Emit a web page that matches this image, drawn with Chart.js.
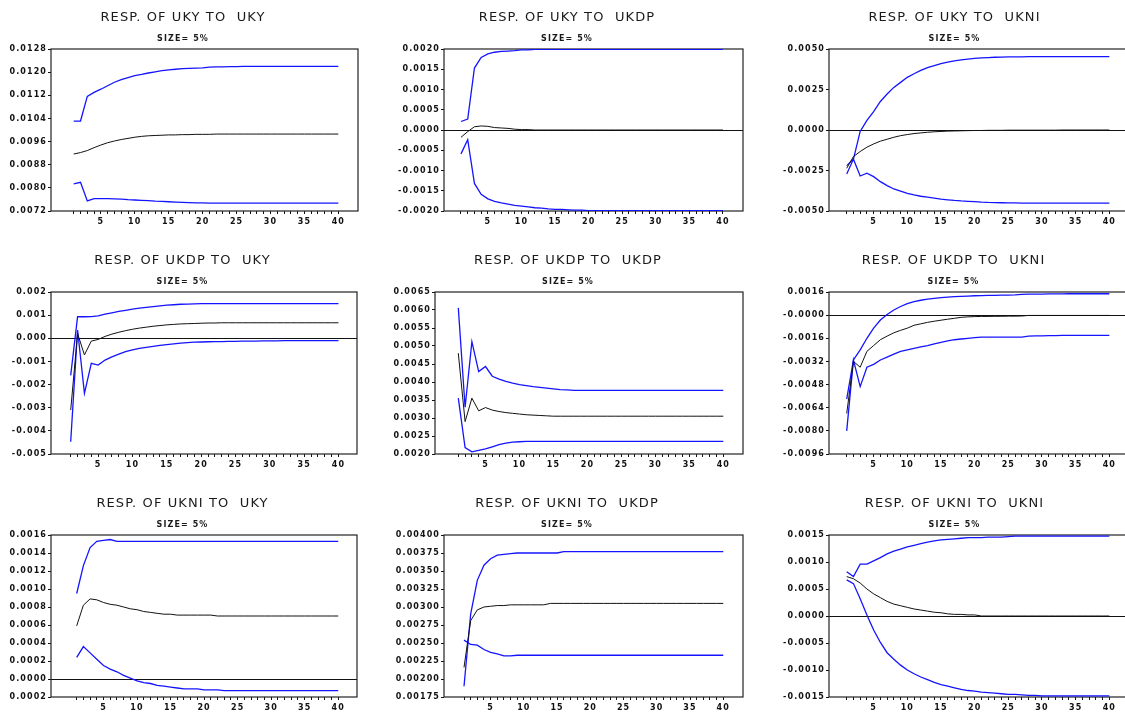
<!DOCTYPE html>
<html>
<head>
<meta charset="utf-8">
<script src="https://cdn.jsdelivr.net/npm/chart.js@4.4.1/dist/chart.umd.min.js"></script>
<style>
  body { margin: 0; width: 1125px; height: 713px; overflow: hidden; background: #fff; position: relative; }
  canvas { position: absolute; }
</style>
</head>
<body>
<script>
const periods = [1, 2, 3, 4, 5, 6, 7, 8, 9, 10, 11, 12, 13, 14, 15, 16, 17, 18, 19, 20,
  21, 22, 23, 24, 25, 26, 27, 28, 29, 30, 31, 32, 33, 34, 35, 36, 37, 38, 39, 40];

const panelTitles = [
  "RESP. OF UKY TO  UKY", "RESP. OF UKY TO  UKDP", "RESP. OF UKY TO  UKNI",
  "RESP. OF UKDP TO  UKY", "RESP. OF UKDP TO  UKDP", "RESP. OF UKDP TO  UKNI",
  "RESP. OF UKNI TO  UKY", "RESP. OF UKNI TO  UKDP", "RESP. OF UKNI TO  UKNI"
];
const subTitle = "SIZE= 5%";

// y tick labels, top to bottom
const yTicksUkyUky = ["0.0128", "0.0120", "0.0112", "0.0104", "0.0096", "0.0088", "0.0080", "0.0072"];
const yTicksUkyUkdp = ["0.0020", "0.0015", "0.0010", "0.0005", "0.0000", "-0.0005", "-0.0010", "-0.0015", "-0.0020"];
const yTicksUkyUkni = ["0.0050", "0.0025", "0.0000", "-0.0025", "-0.0050"];
const yTicksUkdpUky = ["0.002", "0.001", "0.000", "-0.001", "-0.002", "-0.003", "-0.004", "-0.005"];
const yTicksUkdpUkdp = ["0.0065", "0.0060", "0.0055", "0.0050", "0.0045", "0.0040", "0.0035", "0.0030", "0.0025", "0.0020"];
const yTicksUkdpUkni = ["0.0016", "-0.0000", "-0.0016", "-0.0032", "-0.0048", "-0.0064", "-0.0080", "-0.0096"];
const yTicksUkniUky = ["0.0016", "0.0014", "0.0012", "0.0010", "0.0008", "0.0006", "0.0004", "0.0002", "0.0000", "-0.0002"];
const yTicksUkniUkdp = ["0.00400", "0.00375", "0.00350", "0.00325", "0.00300", "0.00275", "0.00250", "0.00225", "0.00200", "0.00175"];
const yTicksUkniUkni = ["0.0015", "0.0010", "0.0005", "0.0000", "-0.0005", "-0.0010", "-0.0015"];

// UKY to UKY
const upperUkyUky = [0.01031, 0.01031, 0.01116, 0.01130, 0.01141, 0.01153, 0.01165, 0.01174, 0.01181, 0.01188,
  0.01192, 0.01197, 0.01201, 0.01205, 0.01208, 0.01210, 0.01212, 0.01213, 0.01214, 0.01215,
  0.01217, 0.01218, 0.01218, 0.01219, 0.01219, 0.01220, 0.01220, 0.01220, 0.01220, 0.01220,
  0.01220, 0.01220, 0.01220, 0.01220, 0.01220, 0.01220, 0.01220, 0.01220, 0.01220, 0.01220];
const respUkyUky = [0.00917, 0.00922, 0.00929, 0.00939, 0.00948, 0.00956, 0.00962, 0.00967, 0.00971, 0.00975,
  0.00978, 0.00980, 0.00981, 0.00982, 0.00983, 0.00983, 0.00984, 0.00984, 0.00985, 0.00985,
  0.00985, 0.00986, 0.00986, 0.00986, 0.00986, 0.00986, 0.00986, 0.00986, 0.00986, 0.00986,
  0.00986, 0.00986, 0.00986, 0.00986, 0.00986, 0.00986, 0.00986, 0.00986, 0.00986, 0.00986];
const lowerUkyUky = [0.00814, 0.00819, 0.00755, 0.00763, 0.00763, 0.00763, 0.00762, 0.00761, 0.00759, 0.00758,
  0.00757, 0.00756, 0.00754, 0.00753, 0.00752, 0.00751, 0.00750, 0.00749, 0.00748, 0.00748,
  0.00747, 0.00747, 0.00747, 0.00747, 0.00747, 0.00747, 0.00747, 0.00747, 0.00747, 0.00747,
  0.00747, 0.00747, 0.00747, 0.00747, 0.00747, 0.00747, 0.00747, 0.00747, 0.00747, 0.00747];

// UKY to UKDP
const upperUkyUkdp = [0.00021, 0.00027, 0.00153, 0.00179, 0.00188, 0.00192, 0.00194, 0.00195, 0.00196, 0.00198,
  0.00198, 0.00199, 0.00199, 0.00199, 0.00199, 0.00199, 0.00199, 0.00199, 0.00199, 0.00199,
  0.00199, 0.00199, 0.00199, 0.00199, 0.00199, 0.00199, 0.00199, 0.00199, 0.00199, 0.00199,
  0.00199, 0.00199, 0.00199, 0.00199, 0.00199, 0.00199, 0.00199, 0.00199, 0.00199, 0.00199];
const respUkyUkdp = [-0.00018, -0.00004, 0.00008, 0.00010, 0.00009, 0.00006, 0.00005, 0.00004, 0.00002, 0.00001,
  0.00001, 0, 0, 0, 0, 0, 0, 0, 0, 0,
  0, 0, 0, 0, 0, 0, 0, 0, 0, 0,
  0, 0, 0, 0, 0, 0, 0, 0, 0, 0];
const lowerUkyUkdp = [-0.00059, -0.00024, -0.00132, -0.00159, -0.00170, -0.00176, -0.00180, -0.00183, -0.00186, -0.00188,
  -0.00190, -0.00192, -0.00193, -0.00195, -0.00196, -0.00196, -0.00197, -0.00198, -0.00198, -0.00199,
  -0.00199, -0.00199, -0.00199, -0.00199, -0.00199, -0.00199, -0.00199, -0.00199, -0.00199, -0.00199,
  -0.00199, -0.00199, -0.00199, -0.00199, -0.00199, -0.00199, -0.00199, -0.00199, -0.00199, -0.00199];

// UKY to UKNI
const upperUkyUkni = [-0.00271, -0.00180, -0.00009, 0.00059, 0.00114, 0.00176, 0.00222, 0.00263, 0.00294, 0.00325,
  0.00347, 0.00368, 0.00385, 0.00398, 0.00409, 0.00419, 0.00427, 0.00433, 0.00438, 0.00442,
  0.00445, 0.00447, 0.00449, 0.00450, 0.00451, 0.00452, 0.00452, 0.00453, 0.00453, 0.00453,
  0.00453, 0.00453, 0.00453, 0.00453, 0.00453, 0.00453, 0.00453, 0.00453, 0.00453, 0.00453];
const respUkyUkni = [-0.00236, -0.00164, -0.00133, -0.00106, -0.00086, -0.00069, -0.00057, -0.00045, -0.00035, -0.00028,
  -0.00022, -0.00018, -0.00014, -0.00011, -0.00009, -0.00007, -0.00006, -0.00005, -0.00004, -0.00003,
  -0.00003, -0.00002, -0.00002, -0.00002, -0.00001, -0.00001, -0.00001, -0.00001, -0.00001, -0.00001,
  -0.00001, -0.00001, 0, 0, 0, 0, 0, 0, 0, 0];
const lowerUkyUkni = [-0.00220, -0.00180, -0.00284, -0.00267, -0.00288, -0.00319, -0.00343, -0.00364, -0.00378, -0.00391,
  -0.00401, -0.00409, -0.00415, -0.00421, -0.00427, -0.00431, -0.00435, -0.00438, -0.00440, -0.00442,
  -0.00445, -0.00447, -0.00448, -0.00449, -0.00450, -0.00450, -0.00451, -0.00451, -0.00451, -0.00451,
  -0.00451, -0.00451, -0.00451, -0.00451, -0.00451, -0.00451, -0.00451, -0.00451, -0.00451, -0.00451];

// UKDP to UKY
const upperUkdpUky = [-0.00160, 0.00093, 0.00093, 0.00094, 0.00097, 0.00104, 0.00110, 0.00116, 0.00121, 0.00126,
  0.00130, 0.00134, 0.00137, 0.00140, 0.00143, 0.00145, 0.00147, 0.00148, 0.00149, 0.00150,
  0.00150, 0.00150, 0.00150, 0.00150, 0.00150, 0.00150, 0.00150, 0.00150, 0.00150, 0.00150,
  0.00150, 0.00150, 0.00150, 0.00150, 0.00150, 0.00150, 0.00150, 0.00150, 0.00150, 0.00150];
const respUkdpUky = [-0.00310, 0.00021, -0.00072, -0.00012, -0.00005, 0.00008, 0.00018, 0.00026, 0.00033, 0.00039,
  0.00044, 0.00048, 0.00052, 0.00055, 0.00058, 0.00060, 0.00062, 0.00063, 0.00064, 0.00065,
  0.00066, 0.00066, 0.00067, 0.00067, 0.00067, 0.00067, 0.00067, 0.00067, 0.00067, 0.00067,
  0.00067, 0.00067, 0.00067, 0.00067, 0.00067, 0.00067, 0.00067, 0.00067, 0.00067, 0.00067];
const lowerUkdpUky = [-0.00447, 0.00036, -0.00238, -0.00108, -0.00116, -0.00094, -0.00080, -0.00068, -0.00058, -0.00050,
  -0.00044, -0.00039, -0.00035, -0.00031, -0.00027, -0.00024, -0.00021, -0.00019, -0.00017, -0.00016,
  -0.00015, -0.00014, -0.00014, -0.00013, -0.00013, -0.00012, -0.00012, -0.00012, -0.00011, -0.00011,
  -0.00011, -0.00010, -0.00010, -0.00010, -0.00010, -0.00010, -0.00010, -0.00010, -0.00010, -0.00010];

// UKDP to UKDP
const upperUkdpUkdp = [0.00606, 0.00330, 0.00512, 0.00429, 0.00443, 0.00416, 0.00408, 0.00402, 0.00397, 0.00393,
  0.00390, 0.00387, 0.00385, 0.00383, 0.00381, 0.00379, 0.00378, 0.00377, 0.00377, 0.00377,
  0.00377, 0.00377, 0.00377, 0.00377, 0.00377, 0.00377, 0.00377, 0.00377, 0.00377, 0.00377,
  0.00377, 0.00377, 0.00377, 0.00377, 0.00377, 0.00377, 0.00377, 0.00377, 0.00377, 0.00377];
const respUkdpUkdp = [0.00480, 0.00290, 0.00355, 0.00320, 0.00329, 0.00322, 0.00318, 0.00315, 0.00313, 0.00311,
  0.00309, 0.00308, 0.00307, 0.00306, 0.00305, 0.00305, 0.00305, 0.00305, 0.00305, 0.00305,
  0.00305, 0.00305, 0.00305, 0.00305, 0.00305, 0.00305, 0.00305, 0.00305, 0.00305, 0.00305,
  0.00305, 0.00305, 0.00305, 0.00305, 0.00305, 0.00305, 0.00305, 0.00305, 0.00305, 0.00305];
const lowerUkdpUkdp = [0.00355, 0.00218, 0.00206, 0.00210, 0.00214, 0.00220, 0.00226, 0.00230, 0.00233, 0.00234,
  0.00235, 0.00235, 0.00235, 0.00235, 0.00235, 0.00235, 0.00235, 0.00235, 0.00235, 0.00235,
  0.00235, 0.00235, 0.00235, 0.00235, 0.00235, 0.00235, 0.00235, 0.00235, 0.00235, 0.00235,
  0.00235, 0.00235, 0.00235, 0.00235, 0.00235, 0.00235, 0.00235, 0.00235, 0.00235, 0.00235];

// UKDP to UKNI
const upperUkdpUkni = [-0.00580, -0.00310, -0.00240, -0.00160, -0.00090, -0.00034, 0.00004, 0.00036, 0.00060, 0.00080,
  0.00093, 0.00103, 0.00110, 0.00116, 0.00121, 0.00125, 0.00128, 0.00130, 0.00132, 0.00134,
  0.00135, 0.00136, 0.00137, 0.00138, 0.00139, 0.00140, 0.00143, 0.00145, 0.00146, 0.00146,
  0.00147, 0.00147, 0.00147, 0.00148, 0.00148, 0.00148, 0.00148, 0.00148, 0.00148, 0.00148];
const respUkdpUkni = [-0.00680, -0.00320, -0.00360, -0.00250, -0.00210, -0.00170, -0.00145, -0.00122, -0.00105, -0.00090,
  -0.00070, -0.00060, -0.00050, -0.00042, -0.00035, -0.00028, -0.00022, -0.00015, -0.00012, -0.00010,
  -0.00009, -0.00009, -0.00008, -0.00008, -0.00007, -0.00007, -0.00006, -0.00002, -0.00002, -0.00002,
  -0.00002, -0.00002, -0.00002, -0.00002, -0.00002, -0.00002, -0.00002, -0.00002, -0.00002, -0.00002];
const lowerUkdpUkni = [-0.00800, -0.00310, -0.00494, -0.00360, -0.00340, -0.00310, -0.00290, -0.00270, -0.00250, -0.00240,
  -0.00230, -0.00220, -0.00210, -0.00198, -0.00188, -0.00178, -0.00170, -0.00165, -0.00160, -0.00156,
  -0.00152, -0.00152, -0.00152, -0.00152, -0.00152, -0.00152, -0.00152, -0.00145, -0.00144, -0.00143,
  -0.00142, -0.00141, -0.00140, -0.00140, -0.00140, -0.00140, -0.00140, -0.00140, -0.00140, -0.00140];

// UKNI to UKY
const upperUkniUky = [0.00095, 0.00126, 0.00146, 0.00153, 0.00154, 0.00155, 0.00153, 0.00153, 0.00153, 0.00153,
  0.00153, 0.00153, 0.00153, 0.00153, 0.00153, 0.00153, 0.00153, 0.00153, 0.00153, 0.00153,
  0.00153, 0.00153, 0.00153, 0.00153, 0.00153, 0.00153, 0.00153, 0.00153, 0.00153, 0.00153,
  0.00153, 0.00153, 0.00153, 0.00153, 0.00153, 0.00153, 0.00153, 0.00153, 0.00153, 0.00153];
const respUkniUky = [0.00059, 0.00082, 0.00089, 0.00088, 0.00085, 0.00083, 0.00082, 0.00080, 0.00078, 0.00077,
  0.00075, 0.00074, 0.00073, 0.00072, 0.00072, 0.00071, 0.00071, 0.00071, 0.00071, 0.00071,
  0.00071, 0.00070, 0.00070, 0.00070, 0.00070, 0.00070, 0.00070, 0.00070, 0.00070, 0.00070,
  0.00070, 0.00070, 0.00070, 0.00070, 0.00070, 0.00070, 0.00070, 0.00070, 0.00070, 0.00070];
const lowerUkniUky = [0.00024, 0.00036, 0.00029, 0.00022, 0.00015, 0.00011, 0.00008, 0.00004, 0.00001, -0.00002,
  -0.00004, -0.00005, -0.00007, -0.00008, -0.00009, -0.00010, -0.00011, -0.00011, -0.00011, -0.00012,
  -0.00012, -0.00012, -0.00013, -0.00013, -0.00013, -0.00013, -0.00013, -0.00013, -0.00013, -0.00013,
  -0.00013, -0.00013, -0.00013, -0.00013, -0.00013, -0.00013, -0.00013, -0.00013, -0.00013, -0.00013];

// UKNI to UKDP
const upperUkniUkdp = [0.00190, 0.00290, 0.00337, 0.00358, 0.00367, 0.00372, 0.00373, 0.00374, 0.00375, 0.00375,
  0.00375, 0.00375, 0.00375, 0.00375, 0.00375, 0.00377, 0.00377, 0.00377, 0.00377, 0.00377,
  0.00377, 0.00377, 0.00377, 0.00377, 0.00377, 0.00377, 0.00377, 0.00377, 0.00377, 0.00377,
  0.00377, 0.00377, 0.00377, 0.00377, 0.00377, 0.00377, 0.00377, 0.00377, 0.00377, 0.00377];
const respUkniUkdp = [0.00216, 0.00281, 0.00296, 0.00300, 0.00301, 0.00302, 0.00302, 0.00303, 0.00303, 0.00303,
  0.00303, 0.00303, 0.00303, 0.00305, 0.00305, 0.00305, 0.00305, 0.00305, 0.00305, 0.00305,
  0.00305, 0.00305, 0.00305, 0.00305, 0.00305, 0.00305, 0.00305, 0.00305, 0.00305, 0.00305,
  0.00305, 0.00305, 0.00305, 0.00305, 0.00305, 0.00305, 0.00305, 0.00305, 0.00305, 0.00305];
const lowerUkniUkdp = [0.00254, 0.00248, 0.00247, 0.00241, 0.00237, 0.00235, 0.00232, 0.00232, 0.00233, 0.00233,
  0.00233, 0.00233, 0.00233, 0.00233, 0.00233, 0.00233, 0.00233, 0.00233, 0.00233, 0.00233,
  0.00233, 0.00233, 0.00233, 0.00233, 0.00233, 0.00233, 0.00233, 0.00233, 0.00233, 0.00233,
  0.00233, 0.00233, 0.00233, 0.00233, 0.00233, 0.00233, 0.00233, 0.00233, 0.00233, 0.00233];

// UKNI to UKNI
const upperUkniUkni = [0.00082, 0.00073, 0.00096, 0.00096, 0.00102, 0.00108, 0.00115, 0.00120, 0.00124, 0.00128,
  0.00131, 0.00134, 0.00137, 0.00139, 0.00141, 0.00142, 0.00143, 0.00144, 0.00145, 0.00145,
  0.00145, 0.00146, 0.00146, 0.00146, 0.00147, 0.00148, 0.00148, 0.00148, 0.00148, 0.00148,
  0.00148, 0.00148, 0.00148, 0.00148, 0.00148, 0.00148, 0.00148, 0.00148, 0.00148, 0.00148];
const respUkniUkni = [0.00073, 0.00069, 0.00061, 0.00050, 0.00041, 0.00034, 0.00027, 0.00022, 0.00019, 0.00016,
  0.00013, 0.00011, 0.00009, 0.00007, 0.00006, 0.00004, 0.00003, 0.00003, 0.00002, 0.00002,
  0, 0, 0, 0, 0, 0, 0, 0, 0, 0,
  0, 0, 0, 0, 0, 0, 0, 0, 0, 0];
const lowerUkniUkni = [0.00067, 0.00060, 0.00032, 0.00002, -0.00026, -0.00049, -0.00068, -0.00080, -0.00091, -0.00100,
  -0.00107, -0.00113, -0.00118, -0.00123, -0.00127, -0.00130, -0.00133, -0.00136, -0.00138, -0.00139,
  -0.00141, -0.00142, -0.00143, -0.00144, -0.00145, -0.00145, -0.00146, -0.00147, -0.00147, -0.00148,
  -0.00148, -0.00148, -0.00148, -0.00148, -0.00148, -0.00148, -0.00148, -0.00148, -0.00148, -0.00148];

const panelSeries = [
  [upperUkyUky, respUkyUky, lowerUkyUky, yTicksUkyUky],
  [upperUkyUkdp, respUkyUkdp, lowerUkyUkdp, yTicksUkyUkdp],
  [upperUkyUkni, respUkyUkni, lowerUkyUkni, yTicksUkyUkni],
  [upperUkdpUky, respUkdpUky, lowerUkdpUky, yTicksUkdpUky],
  [upperUkdpUkdp, respUkdpUkdp, lowerUkdpUkdp, yTicksUkdpUkdp],
  [upperUkdpUkni, respUkdpUkni, lowerUkdpUkni, yTicksUkdpUkni],
  [upperUkniUky, respUkniUky, lowerUkniUky, yTicksUkniUky],
  [upperUkniUkdp, respUkniUkdp, lowerUkniUkdp, yTicksUkniUkdp],
  [upperUkniUkni, respUkniUkni, lowerUkniUkni, yTicksUkniUkni]
];

// canvas frame (left, right, top) and plot box edges, plus x range of each panel
const panelLayout = [
  { left: 8, right: 360, top: 0, boxLeft: 51, boxRight: 358, xMin: -2.35, xMax: 42.9 },
  { left: 391, right: 745, top: 0, boxLeft: 444, boxRight: 743, xMin: -1.53, xMax: 42.98 },
  { left: 779, right: 1131, top: 0, boxLeft: 829, boxRight: 1130, xMin: -1.63, xMax: 43.07 },
  { left: 8, right: 360, top: 243, boxLeft: 51, boxRight: 357, xMin: -1.87, xMax: 42.7 },
  { left: 393, right: 745, top: 243, boxLeft: 435, boxRight: 743, xMin: -2.43, xMax: 42.9 },
  { left: 777, right: 1131, top: 243, boxLeft: 829, boxRight: 1130, xMin: -1.63, xMax: 43.07 },
  { left: 8, right: 360, top: 486, boxLeft: 51, boxRight: 357, xMin: -2.83, xMax: 42.8 },
  { left: 391, right: 745, top: 486, boxLeft: 444, boxRight: 743, xMin: -2.01, xMax: 42.97 },
  { left: 779, right: 1131, top: 486, boxLeft: 829, boxRight: 1130, xMin: -1.63, xMax: 43.07 }
];

const canvasHeight = 233;
const boxTop = 49;
const boxHeight = 162;
const blueLine = '#1414ff';
const tickFont = { family: 'DejaVu Sans', size: 8, weight: 'bold' };

const framePlugin = {
  id: 'framePlugin',
  beforeDraw(chart) {
    chart.ctx.letterSpacing = '1.1px';
  },
  beforeDatasetsDraw(chart) {
    const { ctx, chartArea } = chart;
    ctx.save();
    ctx.strokeStyle = '#222';
    ctx.lineWidth = 1.2;
    ctx.strokeRect(chartArea.left, chartArea.top, chartArea.right - chartArea.left, chartArea.bottom - chartArea.top);
    ctx.restore();
  }
};

function lineSet(values, color, width) {
  return {
    data: values,
    borderColor: color,
    borderWidth: width,
    pointRadius: 0,
    tension: 0,
    fill: false
  };
}

function makePanel(index) {
  const box = panelLayout[index];
  const [upper, resp, lower, yLabels] = panelSeries[index];

  const canvas = document.createElement('canvas');
  canvas.width = box.right - box.left;
  canvas.height = canvasHeight;
  canvas.style.left = box.left + 'px';
  canvas.style.top = box.top + 'px';
  document.body.appendChild(canvas);

  new Chart(canvas, {
    type: 'line',
    data: {
      labels: periods,
      datasets: [
        lineSet(resp, '#111', 1),
        lineSet(upper, blueLine, 1.3),
        lineSet(lower, blueLine, 1.3)
      ]
    },
    options: {
      responsive: false,
      animation: false,
      events: [],
      layout: { padding: { left: 0, right: box.right - box.boxRight, top: 0, bottom: 0 } },
      plugins: {
        legend: { display: false },
        tooltip: { enabled: false },
        title: {
          display: true,
          text: panelTitles[index],
          color: '#1a1a1a',
          font: { family: 'DejaVu Sans', size: 13, weight: 'normal', lineHeight: 1 },
          padding: { top: 11, bottom: 0 }
        },
        subtitle: {
          display: true,
          text: subTitle,
          color: '#1a1a1a',
          font: { family: 'DejaVu Sans', size: 8, weight: 'bold', lineHeight: 1 },
          padding: { top: 10.5, bottom: 6.5 }
        }
      },
      scales: {
        x: {
          type: 'linear',
          min: box.xMin,
          max: box.xMax,
          afterBuildTicks: scale => { scale.ticks = periods.map(p => ({ value: p })); },
          afterFit: scale => { scale.height = canvasHeight - boxTop - boxHeight; },
          border: { display: false },
          grid: { drawOnChartArea: false, tickLength: 3, color: '#111' },
          ticks: {
            autoSkip: false,
            maxRotation: 0,
            padding: 3,
            color: '#111',
            font: tickFont,
            callback: v => (v % 5 === 0 ? String(v) : '')
          }
        },
        y: {
          min: parseFloat(yLabels[yLabels.length - 1]),
          max: parseFloat(yLabels[0]),
          afterBuildTicks: scale => { scale.ticks = yLabels.map(l => ({ value: parseFloat(l) })); },
          afterFit: scale => { scale.width = box.boxLeft - box.left; },
          border: { display: false },
          grid: {
            color: c => (c.tick && c.tick.value === 0 ? '#111' : 'rgba(0,0,0,0)'),
            tickColor: '#111',
            tickLength: 3,
            lineWidth: 1
          },
          ticks: {
            autoSkip: false,
            padding: 1,
            color: '#111',
            font: tickFont,
            callback: (v, i) => yLabels[i]
          }
        }
      }
    },
    plugins: [framePlugin]
  });
}

for (let i = 0; i < panelLayout.length; i++) {
  makePanel(i);
}
</script>
</body>
</html>
